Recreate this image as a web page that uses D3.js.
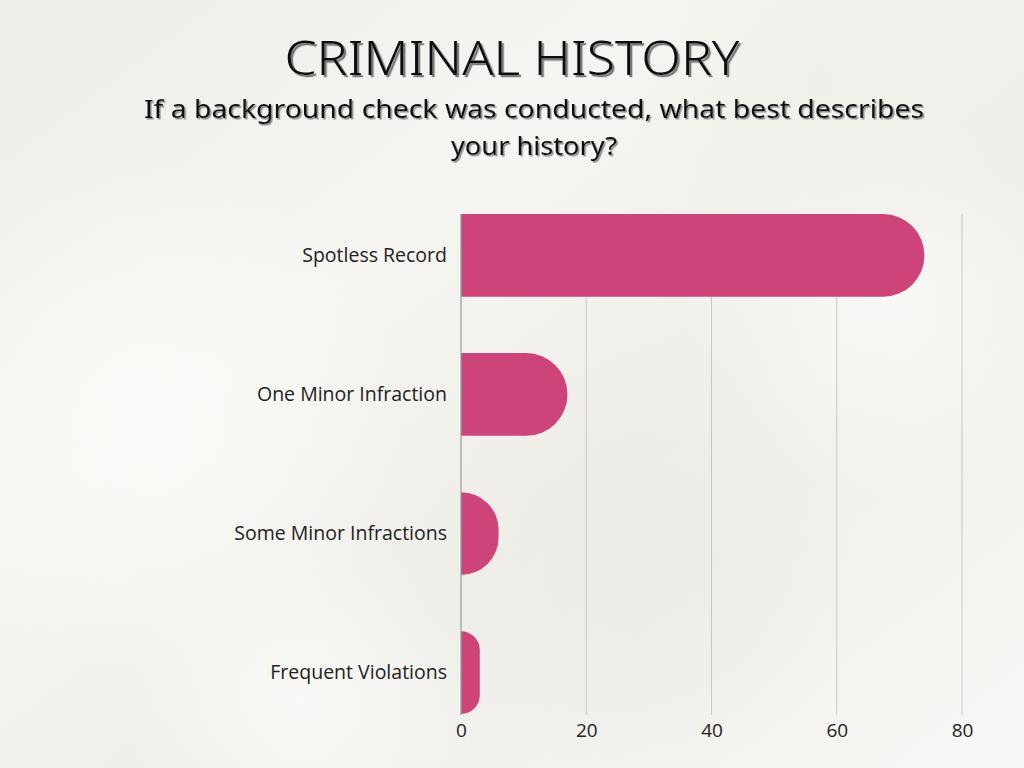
<!DOCTYPE html>
<html><head><meta charset="utf-8">
<script src="https://cdn.jsdelivr.net/npm/d3@7"></script>
<style>html,body{margin:0;padding:0;overflow:hidden;background:#f4f3ef}</style>
</head><body>
<svg id="c" width="1024" height="768"></svg>
<script>
const categories = ["Spotless Record","One Minor Infraction","Some Minor Infractions","Frequent Violations"];
const values = [74, 17, 6, 3];
const tickValues = [0, 20, 40, 60, 80];
const title = "CRIMINAL HISTORY";
const subtitleLines = ["If a background check was conducted, what best describes","your history?"];

const svg = d3.select("#c");
const defs = svg.append("defs");
const bg = defs.append("linearGradient").attr("id","bg").attr("x1","0").attr("y1","0").attr("x2","1").attr("y2","1");
bg.append("stop").attr("offset","0").attr("stop-color","#eeede8");
bg.append("stop").attr("offset","0.35").attr("stop-color","#f6f5f1");
bg.append("stop").attr("offset","0.6").attr("stop-color","#efeee9");
bg.append("stop").attr("offset","1").attr("stop-color","#f7f7f5");
svg.append("rect").attr("width",1024).attr("height",768).attr("fill","url(#bg)");
const blobs = [[150,420,260,"#fbfbf9"],[640,560,220,"#ebeae5"],[880,300,200,"#f9f9f7"],[300,700,180,"#fafaf8"],[820,80,200,"#f0efe9"]];
blobs.forEach((b,i)=>{
  const g = defs.append("radialGradient").attr("id","rb"+i);
  g.append("stop").attr("offset","0").attr("stop-color",b[3]).attr("stop-opacity",0.9);
  g.append("stop").attr("offset","1").attr("stop-color",b[3]).attr("stop-opacity",0);
  svg.append("circle").attr("cx",b[0]).attr("cy",b[1]).attr("r",b[2]).attr("fill","url(#rb"+i+")");
});

const sh = defs.append("filter").attr("id","sh").attr("x","-5%").attr("y","-20%").attr("width","110%").attr("height","140%");
sh.append("feDropShadow").attr("dx",2.2).attr("dy",2.2).attr("stdDeviation",0.3).attr("flood-color","#777").attr("flood-opacity",1);
const sh2 = defs.append("filter").attr("id","sh2").attr("x","-5%").attr("y","-20%").attr("width","110%").attr("height","140%");
sh2.append("feDropShadow").attr("dx",1.5).attr("dy",1.5).attr("stdDeviation",0.3).attr("flood-color","#888").attr("flood-opacity",1);

const x = d3.scaleLinear().domain([0,80]).range([461,962]);
const y = d3.scaleBand().domain(categories).range([214,714]).paddingInner(0.405).paddingOuter(0);

// gridlines
svg.append("g").selectAll("line").data(tickValues.filter(t=>t>0)).join("line")
  .attr("x1",d=>x(d)).attr("x2",d=>x(d)).attr("y1",214).attr("y2",715)
  .attr("stroke","#c8c8c6").attr("stroke-width",1);

// bars
function barPath(d,i){
  const x0 = x(0), x1 = x(d), y0 = y(categories[i]), h = y.bandwidth();
  const w = x1 - x0;
  const r = Math.min(h/2, w);
  return `M${x0},${y0}H${x1-r}A${r},${r} 0 0 1 ${x1},${y0+r}V${y0+h-r}A${r},${r} 0 0 1 ${x1-r},${y0+h}H${x0}Z`;
}
svg.append("g").selectAll("path").data(values).join("path")
  .attr("d",barPath).attr("fill","#cc447a");

// axis line
svg.append("line").attr("x1",x(0)).attr("x2",x(0)).attr("y1",214).attr("y2",715).attr("stroke","#9a9a98").attr("stroke-width",1.2);

const lf = "'Open Sans', 'Noto Sans', sans-serif";
// x axis labels
const xAxis = d3.axisBottom(x).tickValues(tickValues).tickSize(0).tickPadding(10);
const gx = svg.append("g").attr("transform","translate(0,714)").call(xAxis);
gx.select(".domain").remove();
gx.selectAll("text").attr("font-family",lf).attr("font-size",19).attr("fill","#222");

// y axis labels
const yAxis = d3.axisLeft(y).tickSize(0).tickPadding(14);
const gy = svg.append("g").attr("transform",`translate(${x(0)},0)`).call(yAxis);
gy.select(".domain").remove();
gy.selectAll("text").attr("font-family",lf).attr("font-size",19.5).attr("fill","#222");

// titles
const tf = "'Noto Sans', 'Open Sans', sans-serif";
svg.append("text").attr("x",512).attr("y",75).attr("text-anchor","middle")
  .attr("font-family",tf).attr("font-size",47).attr("font-weight",300).attr("fill","#111")
  .attr("textLength",455).attr("lengthAdjust","spacingAndGlyphs").attr("filter","url(#sh)").text(title);
const subY = [118, 155], subLen = [780, 166];
subtitleLines.forEach((s,i)=>{
  svg.append("text").attr("x",534).attr("y",subY[i]).attr("text-anchor","middle")
    .attr("font-family",tf).attr("font-size",25).attr("font-weight",400).attr("fill","#111")
    .attr("textLength",subLen[i]).attr("lengthAdjust","spacingAndGlyphs").attr("filter","url(#sh2)").text(s);
});
</script>
</body></html>
